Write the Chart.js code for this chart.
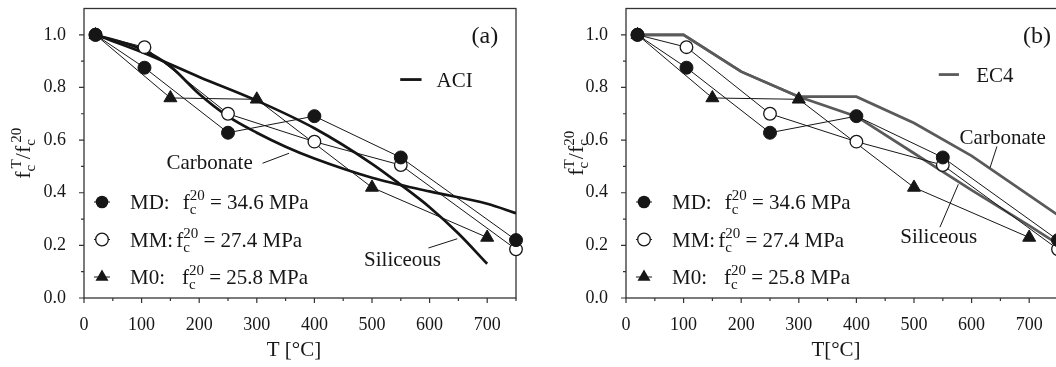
<!DOCTYPE html>
<html>
<head>
<meta charset="utf-8">
<script src="https://cdn.jsdelivr.net/npm/chart.js@4.4.1/dist/chart.umd.min.js"></script>
<style>
  html, body { margin: 0; padding: 0; background: #fff; overflow: hidden; }
  #wrap { position: relative; width: 1056px; height: 367px; overflow: hidden; }
  #chartA { position: absolute; left: 0; top: 0; }
  #chartB { position: absolute; left: 530px; top: 0; }
</style>
</head>
<body>
<div id="wrap">
  <canvas id="chartA" width="530" height="367"></canvas>
  <canvas id="chartB" width="545" height="367"></canvas>
</div>
<script>
// measured residual strength ratio fcT / fc20 for the three mixes
const mdTemps = [20, 105, 250, 400, 550, 750];
const mdRatio = [1.0, 0.875, 0.628, 0.691, 0.534, 0.22];
const mmTemps = [20, 105, 250, 400, 550, 750];
const mmRatio = [1.0, 0.953, 0.70, 0.594, 0.505, 0.185];
const m0Temps = [20, 150, 300, 500, 700];
const m0Ratio = [1.0, 0.76, 0.755, 0.42, 0.23];

// ACI design curves
const aciCarbTemps = [20, 100, 150, 200, 250, 300, 350, 400, 500, 600, 700, 750];
const aciCarbRatio = [1.0, 0.945, 0.88, 0.775, 0.69, 0.628, 0.575, 0.53, 0.457, 0.405, 0.358, 0.322];
const aciSilTemps = [20, 100, 200, 300, 400, 500, 550, 600, 650, 700];
const aciSilRatio = [1.0, 0.935, 0.84, 0.75, 0.645, 0.51, 0.43, 0.345, 0.245, 0.13];

// EC4 design curves
const ec4CarbTemps = [20, 100, 200, 300, 400, 500, 600, 700, 750];
const ec4CarbRatio = [1.0, 1.0, 0.86, 0.765, 0.765, 0.665, 0.54, 0.39, 0.315];
const ec4SilTemps = [20, 100, 200, 300, 400, 500, 600, 700, 750];
const ec4SilRatio = [1.0, 1.0, 0.86, 0.765, 0.69, 0.55, 0.41, 0.275, 0.205];

// axis ranges and tick spacing
const tempMax = 750;
const tempStep = 50;
const ratioMax = 1.1;
const ratioStep = 0.1;

const FONT = '"Liberation Serif", "Times New Roman", serif';
const INK = '#161616';

function xy(xs, ys) {
  return xs.map(function (x, i) { return { x: x, y: ys[i] }; });
}

function seriesSets() {
  return [
    { label: 'MD', data: xy(mdTemps, mdRatio), borderColor: INK, borderWidth: 1, tension: 0, clip: false,
      pointStyle: 'circle', pointRadius: 6.5, pointBackgroundColor: INK, pointBorderColor: INK, pointBorderWidth: 1 },
    { label: 'MM', data: xy(mmTemps, mmRatio), borderColor: INK, borderWidth: 1, tension: 0, clip: false,
      pointStyle: 'circle', pointRadius: 6.3, pointBackgroundColor: '#fff', pointBorderColor: INK, pointBorderWidth: 1.3 },
    { label: 'M0', data: xy(m0Temps, m0Ratio), borderColor: INK, borderWidth: 1, tension: 0, clip: false,
      pointStyle: 'triangle', pointRadius: 7.5, pointBackgroundColor: INK, pointBorderColor: INK, pointBorderWidth: 1 }
  ];
}

function curve(label, xs, ys, color, smooth) {
  return {
    label: label, data: xy(xs, ys), borderColor: color, borderWidth: 2.7,
    pointRadius: 0, tension: 0, cubicInterpolationMode: smooth ? 'monotone' : 'default'
  };
}

// write a row of text pieces, some raised or lowered; returns the end x
function runs(ctx, x, y, list, draw) {
  list.forEach(function (r) {
    ctx.font = (r.size || 21) + 'px ' + FONT;
    x += r.dx || 0;
    if (draw) ctx.fillText(r.t, x, y + (r.dy || 0));
    if (!r.keep) x += ctx.measureText(r.t).width;
  });
  return x;
}

// frame, tick marks, titles, legend and callouts
const panelDecor = {
  id: 'panelDecor',
  beforeDatasetsDraw: function (chart) {
    const a = chart.chartArea, ctx = chart.ctx;
    ctx.save();
    ctx.strokeStyle = '#333';
    ctx.lineWidth = 1.3;
    ctx.strokeRect(a.left, a.top, a.right - a.left, a.bottom - a.top);
    ctx.restore();
  },
  afterDraw: function (chart, args, o) {
    const a = chart.chartArea, ctx = chart.ctx;
    const xs = chart.scales.x, ys = chart.scales.y;
    ctx.save();
    ctx.strokeStyle = '#333';
    ctx.lineWidth = 1.2;
    ctx.beginPath();
    xs.ticks.forEach(function (t) {
      const px = xs.getPixelForValue(t.value);
      const len = t.value % 100 === 0 ? 5 : 3;
      ctx.moveTo(px, a.bottom);
      ctx.lineTo(px, a.bottom + len);
    });
    ys.ticks.forEach(function (t) {
      if (t.value > 1.05) return;
      const py = ys.getPixelForValue(t.value);
      const len = Math.round(t.value * 10) % 2 === 0 ? 5 : 3;
      ctx.moveTo(a.left, py);
      ctx.lineTo(a.left - len, py);
    });
    ctx.stroke();

    ctx.fillStyle = INK;
    ctx.textBaseline = 'alphabetic';

    // x title
    ctx.font = '21px ' + FONT;
    ctx.textAlign = 'center';
    ctx.fillText(o.xTitle, (a.left + a.right) / 2 - 6, 356);

    // y title, rotated
    ctx.textAlign = 'left';
    const yTitle = [
      { t: 'f', size: 22 },
      { t: 'c', size: 15, dy: 5, keep: true },
      { t: 'T', size: 15, dy: -9, dx: o.supGap },
      { t: '/f', size: 22 },
      { t: 'c', size: 15, dy: 5, keep: true },
      { t: '20', size: 15, dy: -9, dx: o.supGap }
    ];
    const tw = runs(ctx, 0, 0, yTitle, false);
    ctx.save();
    ctx.translate(a.left - o.yTitleOffset, (a.top + a.bottom) / 2);
    ctx.rotate(-Math.PI / 2);
    runs(ctx, -tw / 2, 7, yTitle, true);
    ctx.restore();

    // panel tag
    ctx.font = '24px ' + FONT;
    ctx.textAlign = 'right';
    ctx.fillText(o.tag.text, xs.getPixelForValue(o.tag.x), ys.getPixelForValue(o.tag.y) + 8);

    // design code key
    const k = o.key;
    ctx.strokeStyle = k.color;
    ctx.lineWidth = 2.8;
    ctx.beginPath();
    ctx.moveTo(xs.getPixelForValue(k.x1), ys.getPixelForValue(k.y));
    ctx.lineTo(xs.getPixelForValue(k.x2), ys.getPixelForValue(k.y));
    ctx.stroke();
    ctx.font = '21px ' + FONT;
    ctx.textAlign = 'left';
    ctx.fillText(k.text, xs.getPixelForValue(k.tx), ys.getPixelForValue(k.y) + 7);

    // curve callouts
    ctx.strokeStyle = INK;
    ctx.lineWidth = 1;
    o.callouts.forEach(function (c) {
      ctx.textAlign = 'center';
      ctx.fillText(c.text, xs.getPixelForValue(c.x), ys.getPixelForValue(c.y) + 7);
      ctx.beginPath();
      ctx.moveTo(xs.getPixelForValue(c.from[0]), ys.getPixelForValue(c.from[1]));
      ctx.lineTo(xs.getPixelForValue(c.to[0]), ys.getPixelForValue(c.to[1]));
      ctx.stroke();
    });

    // mix legend
    ctx.textAlign = 'left';
    const rows = [
      { name: 'MD:', gap: 13, value: ' = 34.6 MPa', style: 'disc' },
      { name: 'MM:', gap: 3, value: ' = 27.4 MPa', style: 'ring' },
      { name: 'M0:', gap: 17, value: ' = 25.8 MPa', style: 'tri' }
    ];
    rows.forEach(function (r, i) {
      const cy = 202 + i * 37.5;
      const mx = a.left + 18;
      ctx.strokeStyle = INK;
      ctx.lineWidth = 1;
      ctx.beginPath();
      ctx.moveTo(mx - 8, cy);
      ctx.lineTo(mx + 8, cy);
      ctx.stroke();
      ctx.fillStyle = INK;
      ctx.beginPath();
      if (r.style === 'tri') {
        ctx.moveTo(mx, cy - 7.5);
        ctx.lineTo(mx + 6.5, cy + 3.75);
        ctx.lineTo(mx - 6.5, cy + 3.75);
        ctx.closePath();
        ctx.fill();
      } else {
        ctx.arc(mx, cy, 6.3, 0, Math.PI * 2);
        if (r.style === 'disc') {
          ctx.fill();
        } else {
          ctx.fillStyle = '#fff';
          ctx.fill();
          ctx.lineWidth = 1.3;
          ctx.stroke();
          ctx.fillStyle = INK;
        }
      }
      runs(ctx, a.left + 46, cy + 7, [
        { t: r.name },
        { t: 'f', dx: r.gap },
        { t: 'c', size: 15, dy: 5, keep: true },
        { t: '20', size: 15, dy: -9 },
        { t: r.value }
      ], true);
    });
    ctx.restore();
  }
};

// drop the half-label padding Chart.js reserves at the axis ends
function trimPadding(s) {
  s.paddingTop = 0;
  s.paddingBottom = 0;
  s.paddingLeft = 0;
  s.paddingRight = 0;
}

function makePanel(canvasId, curves, yWidth, rightPad, decor) {
  return new Chart(document.getElementById(canvasId), {
    type: 'line',
    data: { datasets: seriesSets().concat(curves) },
    plugins: [panelDecor],
    options: {
      responsive: false,
      animation: false,
      events: [],
      layout: { padding: { top: 6, right: rightPad, left: 0, bottom: 0 } },
      plugins: {
        legend: { display: false },
        tooltip: { enabled: false },
        panelDecor: decor
      },
      scales: {
        x: {
          type: 'linear',
          min: 0,
          max: tempMax,
          afterFit: function (s) { s.height = 69; trimPadding(s); },
          grid: { display: false },
          border: { display: false },
          ticks: {
            stepSize: tempStep,
            autoSkip: false,
            maxRotation: 0,
            padding: 8,
            color: INK,
            font: { family: FONT, size: 18 },
            callback: function (v) { return v % 100 === 0 ? String(v) : ''; }
          }
        },
        y: {
          type: 'linear',
          min: 0,
          max: ratioMax,
          afterFit: function (s) { s.width = yWidth; trimPadding(s); },
          grid: { display: false },
          border: { display: false },
          ticks: {
            stepSize: ratioStep,
            autoSkip: false,
            padding: 10,
            color: INK,
            font: { family: FONT, size: 18 },
            callback: function (v) {
              return (Math.round(v * 10) % 2 === 0 && v < 1.05) ? v.toFixed(1) : '';
            }
          }
        }
      }
    }
  });
}

// (a) ACI curves
makePanel('chartA', [
  curve('ACI carbonate', aciCarbTemps, aciCarbRatio, '#141414', true),
  curve('ACI siliceous', aciSilTemps, aciSilRatio, '#141414', true)
], 84, 14, {
  xTitle: 'T [°C]',
  yTitleOffset: 61,
  supGap: 3,
  tag: { text: '(a)', x: 719, y: 1.0 },
  key: { x1: 549, x2: 586, y: 0.83, tx: 612, text: 'ACI', color: '#141414' },
  callouts: [
    { text: 'Carbonate', x: 218, y: 0.518, from: [310, 0.512], to: [356, 0.55] },
    { text: 'Siliceous', x: 553, y: 0.147, from: [598, 0.19], to: [648, 0.225] }
  ]
});

// (b) EC4 curves
makePanel('chartB', [
  curve('EC4 carbonate', ec4CarbTemps, ec4CarbRatio, '#5a5a5a', false),
  curve('EC4 siliceous', ec4SilTemps, ec4SilRatio, '#5a5a5a', false)
], 96, 17, {
  xTitle: 'T[°C]',
  yTitleOffset: 50,
  supGap: 0,
  tag: { text: '(b)', x: 738, y: 1.0 },
  key: { x1: 543, x2: 578, y: 0.849, tx: 608, text: 'EC4', color: '#5a5a5a' },
  callouts: [
    { text: 'Carbonate', x: 654, y: 0.611, from: [644, 0.576], to: [632, 0.495] },
    { text: 'Siliceous', x: 543, y: 0.234, from: [545, 0.269], to: [577, 0.432] }
  ]
});
</script>
</body>
</html>
